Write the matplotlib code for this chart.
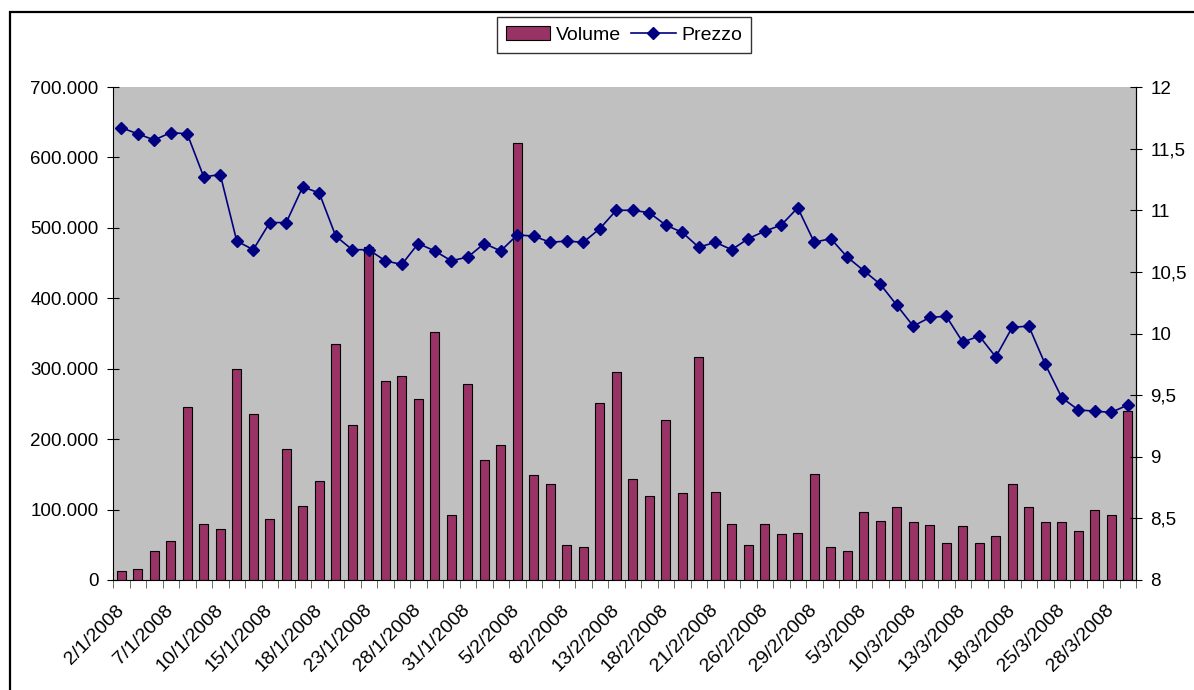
import matplotlib
matplotlib.use("Agg")
import matplotlib.pyplot as plt
from matplotlib.patches import Rectangle
from matplotlib.ticker import FuncFormatter, FixedLocator

plt.rcParams["font.family"] = ["Liberation Sans", "DejaVu Sans"]

# trading days (Jan - Mar 2008)
dates = ["2/1/2008", "3/1/2008", "4/1/2008", "7/1/2008", "8/1/2008", "9/1/2008",
         "10/1/2008", "11/1/2008", "14/1/2008", "15/1/2008", "16/1/2008", "17/1/2008",
         "18/1/2008", "21/1/2008", "22/1/2008", "23/1/2008", "24/1/2008", "25/1/2008",
         "28/1/2008", "29/1/2008", "30/1/2008", "31/1/2008", "1/2/2008", "4/2/2008",
         "5/2/2008", "6/2/2008", "7/2/2008", "8/2/2008", "11/2/2008", "12/2/2008",
         "13/2/2008", "14/2/2008", "15/2/2008", "18/2/2008", "19/2/2008", "20/2/2008",
         "21/2/2008", "22/2/2008", "25/2/2008", "26/2/2008", "27/2/2008", "28/2/2008",
         "29/2/2008", "3/3/2008", "4/3/2008", "5/3/2008", "6/3/2008", "7/3/2008",
         "10/3/2008", "11/3/2008", "12/3/2008", "13/3/2008", "14/3/2008", "17/3/2008",
         "18/3/2008", "19/3/2008", "20/3/2008", "25/3/2008", "26/3/2008", "27/3/2008",
         "28/3/2008", "31/3/2008"]

volume = [13000, 15000, 41000, 56000, 246000, 80000, 73000, 300000, 236000, 86000,
          186000, 105000, 140000, 335000, 220000, 473000, 283000, 290000, 257000, 352000,
          93000, 279000, 171000, 192000, 620000, 149000, 136000, 50000, 47000, 251000,
          296000, 143000, 119000, 227000, 123000, 316000, 125000, 80000, 50000, 80000,
          65000, 67000, 151000, 47000, 41000, 97000, 84000, 104000, 82000, 78000,
          52000, 76000, 52000, 63000, 136000, 104000, 82000, 82000, 69000, 99000,
          93000, 240000]

prezzo = [11.67, 11.62, 11.57, 11.63, 11.62, 11.27, 11.29, 10.75, 10.68, 10.90,
          10.90, 11.19, 11.14, 10.79, 10.68, 10.68, 10.59, 10.56, 10.73, 10.67,
          10.59, 10.62, 10.73, 10.67, 10.80, 10.79, 10.74, 10.75, 10.74, 10.85,
          11.00, 11.00, 10.98, 10.88, 10.82, 10.70, 10.74, 10.68, 10.77, 10.83,
          10.88, 11.02, 10.74, 10.77, 10.62, 10.51, 10.40, 10.23, 10.06, 10.13,
          10.14, 9.93, 9.98, 9.81, 10.05, 10.06, 9.75, 9.48, 9.38, 9.37,
          9.36, 9.42]

x = list(range(len(dates)))

fig = plt.figure(figsize=(11.94, 6.9), dpi=100)
ax = fig.add_axes([113 / 1194, 110 / 690, (1136 - 113) / 1194, (580 - 87) / 690])
ax.set_facecolor("#C0C0C0")

bars = ax.bar(x, volume, width=0.52, color="#993366", edgecolor="black",
              linewidth=0.8, label="Volume", zorder=2)
ax.set_xlim(-0.5, len(dates) - 0.5)
ax.set_ylim(0, 700000)
ax.set_yticks(range(0, 700001, 100000))
ax.yaxis.set_major_formatter(FuncFormatter(lambda v, p: f"{int(v):,}".replace(",", ".")))

ax2 = ax.twinx()
line, = ax2.plot(x, prezzo, color="#000080", lw=1.2, marker="D", markersize=6.5,
                 label="Prezzo")
ax2.set_ylim(8, 12)
ax2.set_yticks([8, 8.5, 9, 9.5, 10, 10.5, 11, 11.5, 12])
ax2.yaxis.set_major_formatter(FuncFormatter(lambda v, p: f"{v:g}".replace(".", ",")))

# x labels every 3rd day, ticks between categories
ax.set_xticks(x[::3])
ax.set_xticklabels(dates[::3], rotation=45, ha="right", rotation_mode="anchor",
                   va="center")
ax.xaxis.set_minor_locator(FixedLocator([i - 0.5 for i in range(len(dates) + 1)]))
ax.tick_params(axis="x", which="major", length=0, pad=20, labelsize=14)
ax.tick_params(axis="x", which="minor", length=6, color="#555555", direction="out")
ax.tick_params(axis="y", direction="inout", length=9, pad=6, labelsize=13.5)
ax2.tick_params(axis="y", direction="inout", length=9, pad=6, labelsize=13.5)

for a in (ax, ax2):
    a.spines["top"].set_visible(False)
ax2.spines["left"].set_visible(False)
ax2.spines["bottom"].set_visible(False)

fig.legend([bars, line], ["Volume", "Prezzo"], loc="center", ncol=2,
           bbox_to_anchor=(624 / 1194, 1 - 35 / 690), frameon=True, fancybox=False,
           edgecolor="black", fontsize=14, handlelength=2.3, handletextpad=0.3,
           columnspacing=0.5, borderpad=0.45)

# outer chart border
fig.add_artist(Rectangle((9.5 / 1194, -0.1), 1.2, (690 - 12) / 690 + 0.1,
                         transform=fig.transFigure, fill=False, lw=1.6,
                         edgecolor="black"))

fig.savefig("out.png", dpi=100)
plt.close(fig)
